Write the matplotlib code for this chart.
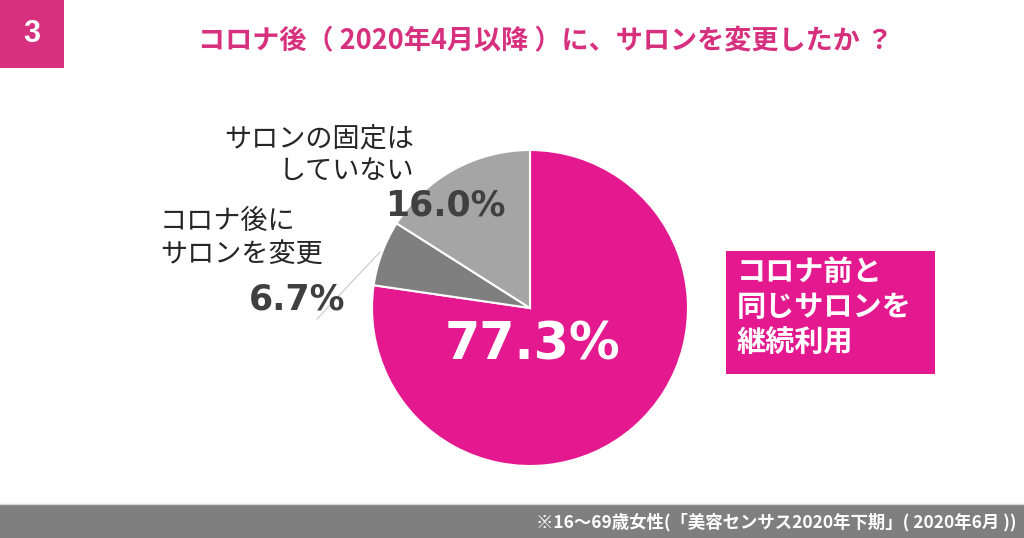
import matplotlib
matplotlib.use("Agg")
import matplotlib.pyplot as plt
from matplotlib.patches import Rectangle

plt.rcParams['font.family'] = ['Noto Sans CJK JP', 'DejaVu Sans']

# data
labels = ["コロナ前と\n同じサロンを\n継続利用", "コロナ後に\nサロンを変更", "サロンの固定は\nしていない"]
values = [77.3, 6.7, 16.0]
colors = ["#E4198F", "#7F7F7F", "#A5A5A5"]
title = "コロナ後（ 2020年4月以降 ）に、サロンを変更したか ？"
note = "※16～69歳女性(「美容センサス2020年下期」( 2020年6月 ))"

W, H = 1024, 538
PINK = "#D6307F"


def Y(y):
    # pixel row (top=0) -> data y
    return H - y


fig = plt.figure(figsize=(W / 100, H / 100), dpi=100)
ax = fig.add_axes([0, 0, 1, 1])

# pie
ax.pie(values, colors=colors, startangle=90, counterclock=False,
       center=(530, Y(308)), radius=158,
       wedgeprops=dict(edgecolor="white", linewidth=1.5))

ax.set_xlim(0, W)
ax.set_ylim(0, H)
ax.set_aspect("equal")
ax.axis("off")

# header
ax.add_patch(Rectangle((0, Y(68)), 64, 68, color=PINK, lw=0))
ax.text(32, Y(34), "3", color="white", fontsize=22, family="Liberation Sans",
        fontweight="bold", ha="center", va="center")
ax.text(546, Y(41), title, color=PINK, fontsize=19.5, fontweight="bold",
        ha="center", va="center")

# value labels (DejaVu Sans Bold for the wide digits)
num = dict(family="DejaVu Sans", fontweight="bold", ha="center", va="center")
ax.text(533, Y(345), f"{values[0]:.1f}%", color="white", fontsize=36.5, **num)
ax.text(445, Y(205), f"{values[2]:.1f}%", color="#404040", fontsize=25, **num)
ax.text(297, Y(300), f"{values[1]:.1f}%", color="#404040", fontsize=25, **num)
ax.plot([317, 380], [Y(319), Y(252)], color="#C8C8C8", lw=0.8)

# category labels
ax.text(414, Y(155), labels[2], color="#262626", fontsize=19.5,
        ha="right", va="center", linespacing=1.25)
ax.text(160, Y(238), labels[1], color="#262626", fontsize=19.5,
        ha="left", va="center", linespacing=1.25)

ax.add_patch(Rectangle((726, Y(374)), 209, 123, color="#E4198F", lw=0))
ax.text(737, Y(307), labels[0], color="white", fontsize=21,
        fontweight="bold", ha="left", va="center", linespacing=1.2)

# footer
ax.add_patch(Rectangle((0, 0), W, Y(504), color="#7F7F7F", lw=0))
ax.plot([0, W], [Y(504), Y(504)], color="#D9D9D9", lw=1)
ax.text(1016, Y(522), note, color="white", fontsize=12.5, fontweight="bold",
        ha="right", va="center")

fig.savefig("out.png", dpi=100, facecolor="white")
